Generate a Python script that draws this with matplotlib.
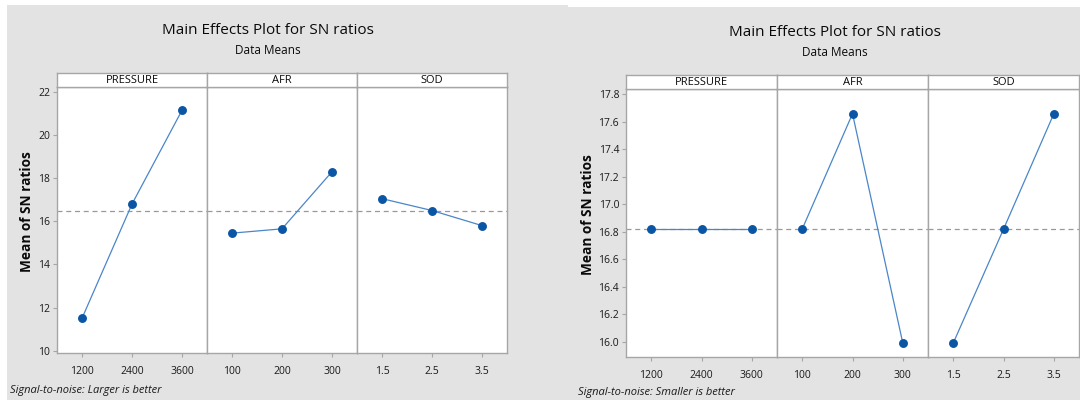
import matplotlib
matplotlib.use("Agg")
import matplotlib.pyplot as plt
from matplotlib.patches import Rectangle

plt.rcParams['font.family'] = ['Open Sans', 'DejaVu Sans']

factors = ["PRESSURE", "AFR", "SOD"]
levels_pressure = ["1200", "2400", "3600"]
levels_afr = ["100", "200", "300"]
levels_sod = ["1.5", "2.5", "3.5"]
level_labels = [levels_pressure, levels_afr, levels_sod]

# Left chart: Larger is better
left_pressure = [11.5, 16.8, 21.15]
left_afr = [15.45, 15.65, 18.3]
left_sod = [17.05, 16.5, 15.8]
left_mean = 16.47
left_yticks = [10, 12, 14, 16, 18, 20, 22]

# Right chart: Smaller is better
right_pressure = [16.82, 16.82, 16.82]
right_afr = [16.82, 17.66, 15.99]
right_sod = [15.99, 16.82, 17.66]
right_mean = 16.82
right_yticks = [16.0, 16.2, 16.4, 16.6, 16.8, 17.0, 17.2, 17.4, 17.6, 17.8]

W, H = 1080, 400
BG = "#e3e3e3"
FRAME = "#a6a6a6"
BLUE = "#0a56a5"
LINE = "#4a86c8"
TXT = "#0a0a0a"

fig = plt.figure(figsize=(W / 100, H / 100), dpi=100)
fig.patch.set_facecolor("white")


def px(x0, y0, x1, y1):
    return [x0 / W, 1 - y1 / H, (x1 - x0) / W, (y1 - y0) / H]


# gray backgrounds
fig.patches.append(Rectangle((7 / W, 0), (568 - 7) / W, 1 - 5 / H,
                             transform=fig.transFigure, facecolor=BG,
                             edgecolor="none", zorder=-10))
fig.patches.append(Rectangle((568 / W, 0), (W - 568) / W, 1 - 7 / H,
                             transform=fig.transFigure, facecolor=BG,
                             edgecolor="none", zorder=-10))


def draw_chart(x0, x1, top, strip_top, bottom, series, mean, yticks, ylim,
               yfmt, title_xy, sub_xy, ylabel_xy, foot_xy, foot_text):
    pw = (x1 - x0) / 3
    for i in range(3):
        ax = fig.add_axes(px(x0 + i * pw, top, x0 + (i + 1) * pw, bottom))
        ax.set_zorder(1)
        ax.set_facecolor("white")
        ax.plot([0, 1, 2], series[i], color=LINE, lw=0.9, zorder=3)
        ax.plot([0, 1, 2], series[i], 'o', color=BLUE, ms=5.4, zorder=4)
        ax.axhline(mean, color="#999999", lw=0.9, ls=(0, (4, 3)), zorder=2)
        ax.set_xlim(-0.5, 2.5)
        ax.set_ylim(*ylim)
        ax.set_xticks([0, 1, 2])
        ax.set_xticklabels(level_labels[i], fontsize=7.5, color="#1a1a1a")
        ax.tick_params(axis='x', length=3, width=0.8, color=FRAME, pad=6)
        if i == 0:
            ax.set_yticks(yticks)
            ax.set_yticklabels([yfmt.format(v) for v in yticks], fontsize=7.5,
                               color="#1a1a1a")
            ax.tick_params(axis='y', length=3, width=0.8, color=FRAME, pad=2)
        else:
            ax.set_yticks([])
        for s in ax.spines.values():
            s.set_color(FRAME)
            s.set_linewidth(1.0)
        sax = fig.add_axes(px(x0 + i * pw, strip_top, x0 + (i + 1) * pw, top))
        sax.set_zorder(1)
        sax.set_facecolor("white")
        sax.set_xticks([])
        sax.set_yticks([])
        for s in sax.spines.values():
            s.set_color(FRAME)
            s.set_linewidth(1.0)
        sax.text(0.5, 0.45, factors[i], ha='center', va='center', fontsize=8,
                 color=TXT, transform=sax.transAxes)
    fig.text(title_xy[0] / W, 1 - title_xy[1] / H, "Main Effects Plot for SN ratios",
             ha='center', va='center', fontsize=11, color=TXT)
    fig.text(sub_xy[0] / W, 1 - sub_xy[1] / H, "Data Means",
             ha='center', va='center', fontsize=8.5, color=TXT)
    fig.text(ylabel_xy[0] / W, 1 - ylabel_xy[1] / H, "Mean of SN ratios",
             rotation=90, ha='center', va='center', fontsize=9.8,
             fontweight='bold', color=TXT)
    fig.text(foot_xy[0] / W, 1 - foot_xy[1] / H, foot_text, ha='left',
             va='center', fontsize=8, style='italic', color="#1a1a1a")


draw_chart(57, 507, 87, 73, 353,
           [left_pressure, left_afr, left_sod], left_mean, left_yticks,
           (9.89, 22.23), "{:.0f}", (268, 30), (268, 51), (27, 212), (10, 391),
           "Signal-to-noise: Larger is better")

draw_chart(626, 1079, 89, 75, 357,
           [right_pressure, right_afr, right_sod], right_mean, right_yticks,
           (15.89, 17.84), "{:.1f}", (835, 33), (835, 53), (588, 215), (578, 393),
           "Signal-to-noise: Smaller is better")

fig.savefig("out.png", dpi=100, facecolor=fig.get_facecolor())
